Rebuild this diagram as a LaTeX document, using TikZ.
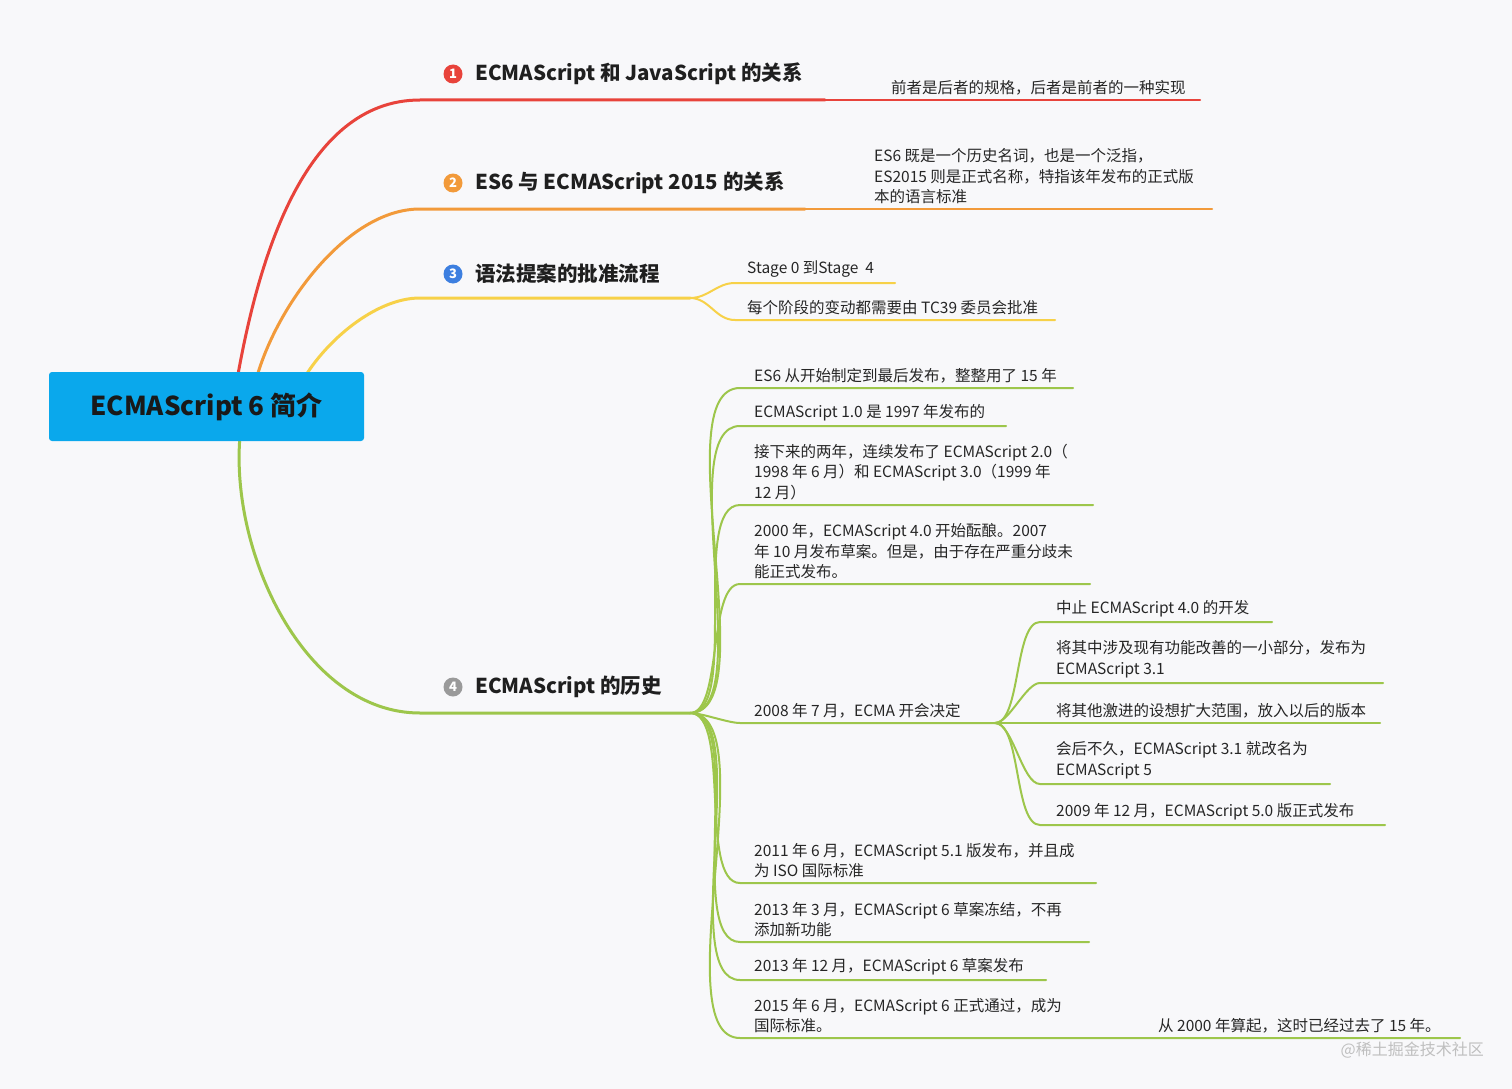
\documentclass[tikz,border=0pt]{standalone}
\usepackage{fontspec}
\setmainfont{Noto Sans CJK SC}
\begin{document}
\begin{tikzpicture}[x=1pt,y=-1pt,
  txt/.style={anchor=south west,inner sep=0pt,align=left,text=black!85,font=\fontsize{15.5}{20.5}\selectfont},
  ttl/.style={anchor=west,inner sep=0pt,text=black!88,font=\fontsize{20.5}{24}\selectfont\bfseries},
  num/.style={circle,inner sep=0pt,minimum size=19pt,text=white,font=\fontsize{13}{13}\selectfont\bfseries},
  mainb/.style={line width=3pt,line cap=round},
  subb/.style={line width=2pt,line cap=round}]
\definecolor{bg}{HTML}{F8F8FA}
\definecolor{cred}{HTML}{E8433B}
\definecolor{corg}{HTML}{F29A3A}
\definecolor{cyel}{HTML}{F7D148}
\definecolor{cgrn}{HTML}{9DC64B}
\definecolor{cblue}{HTML}{0AA8EC}
\definecolor{nblue}{HTML}{3D7FE0}
\definecolor{ngray}{HTML}{9A9A9A}
\fill[bg] (0,0) rectangle (1512,1089);
\useasboundingbox (0,0) rectangle (1512,1089);
\coordinate (cr) at (237,380); \coordinate (co) at (256,380); \coordinate (cy) at (303,380); \coordinate (cg) at (240,436);
% branch 1
\coordinate (b1) at (420,100); \coordinate (b1e) at (825,100); \coordinate (b1t) at (1200,100);
\draw[mainb,cred] (cr) to[out=80,in=180,looseness=0.9] (b1) -- (b1e);
\draw[subb,cred] (b1e) -- (b1t);
\node[num,fill=cred] (n1) at (453,74) {1};
\node[ttl] (t1) at (475,74) {ECMAScript 和 JavaScript 的关系};
\node[txt] (s1) at (891,95) {前者是后者的规格，后者是前者的一种实现};
% branch 2
\coordinate (b2) at (420,209); \coordinate (b2e) at (805,209); \coordinate (b2t) at (1212,209);
\draw[mainb,corg] (co) to[out=75,in=180,looseness=0.8] (b2) -- (b2e);
\draw[subb,corg] (b2e) -- (b2t);
\node[num,fill=corg] (n2) at (453,183) {2};
\node[ttl] (t2) at (475,183) {ES6 与 ECMAScript 2015 的关系};
\node[txt] (s2) at (874,204) {ES6 既是一个历史名词，也是一个泛指，\\ES2015 则是正式名称，特指该年发布的正式版\\本的语言标准};
% branch 3
\coordinate (b3) at (420,298); \coordinate (b3e) at (690,298);
\draw[mainb,cyel] (cy) to[out=60,in=180,looseness=0.8] (b3) -- (b3e);
\coordinate (s3a) at (735,283); \coordinate (s3b) at (735,320);
\draw[subb,cyel] (b3e) to[out=0,in=180] (s3a) -- (895,283);
\draw[subb,cyel] (b3e) to[out=0,in=180] (s3b) -- (1055,320);
\node[num,fill=nblue] (n3) at (453,274) {3};
\node[ttl] (t3) at (475,274) {语法提案的批准流程};
\node[txt] (s3t) at (747,278) {Stage 0 到Stage \ 4};
\node[txt] (s3u) at (747,315) {每个阶段的变动都需要由 TC39 委员会批准};
% branch 4
\coordinate (b4) at (420,713); \coordinate (b4e) at (690,713);
\draw[mainb,cgrn] (cg) to[out=-95,in=180,looseness=0.9] (b4) -- (b4e);
\node[num,fill=ngray] (n4) at (453,687) {4};
\node[ttl] (t4) at (475,687) {ECMAScript 的历史};
\foreach \y/\xe in {388/1073,426/1006,505/1093,584/1090,723/995,883/1096,942/1089,980/1046,1038/1460}{
  \draw[subb,cgrn] (b4e) to[out=0,in=180,looseness=0.6] (740,\y) -- (\xe,\y);
}
\node[txt] (h1) at (754,383) {ES6 从开始制定到最后发布，整整用了 15 年};
\node[txt] (h2) at (754,421) {ECMAScript 1.0 是 1997 年发布的};
\node[txt] (h3) at (754,500) {接下来的两年，连续发布了 ECMAScript 2.0（\\1998 年 6 月）和 ECMAScript 3.0（1999 年\\12 月）};
\node[txt] (h4) at (754,579) {2000 年，ECMAScript 4.0 开始酝酿。2007\\年 10 月发布草案。但是，由于存在严重分歧未\\能正式发布。};
\node[txt] (h5) at (754,718) {2008 年 7 月，ECMA 开会决定};
\node[txt] (h6) at (754,878) {2011 年 6 月，ECMAScript 5.1 版发布，并且成\\为 ISO 国际标准};
\node[txt] (h7) at (754,937) {2013 年 3 月，ECMAScript 6 草案冻结，不再\\添加新功能};
\node[txt] (h8) at (754,975) {2013 年 12 月，ECMAScript 6 草案发布};
\node[txt] (h9) at (754,1033) {2015 年 6 月，ECMAScript 6 正式通过，成为\\国际标准。};
\node[txt] (h9n) at (1158,1033) {从 2000 年算起，这时已经过去了 15 年。};
% 2008 children
\coordinate (p5) at (995,723);
\foreach \y/\xe in {622/1272,683/1383,723/1380,784/1330,825/1385}{
  \draw[subb,cgrn] (p5) to[out=0,in=180,looseness=0.6] (1040,\y) -- (\xe,\y);
}
\node[txt] (k1) at (1056,617) {中止 ECMAScript 4.0 的开发};
\node[txt] (k2) at (1056,678) {将其中涉及现有功能改善的一小部分，发布为\\ECMAScript 3.1};
\node[txt] (k3) at (1056,718) {将其他激进的设想扩大范围，放入以后的版本};
\node[txt] (k4) at (1056,779) {会后不久，ECMAScript 3.1 就改名为\\ECMAScript 5};
\node[txt] (k5) at (1056,820) {2009 年 12 月，ECMAScript 5.0 版正式发布};
% center
\node[fill=cblue,rounded corners=3pt,minimum width=315pt,minimum height=69pt,inner sep=0pt,font=\fontsize{26}{30}\selectfont\bfseries,text=black!90] (c) at (206.5,406.5) {ECMAScript 6 简介};
\node[anchor=east,inner sep=0pt,text=black!25,font=\fontsize{16}{16}\selectfont] (wm) at (1484,1050) {@稀土掘金技术社区};
\end{tikzpicture}
\end{document}
